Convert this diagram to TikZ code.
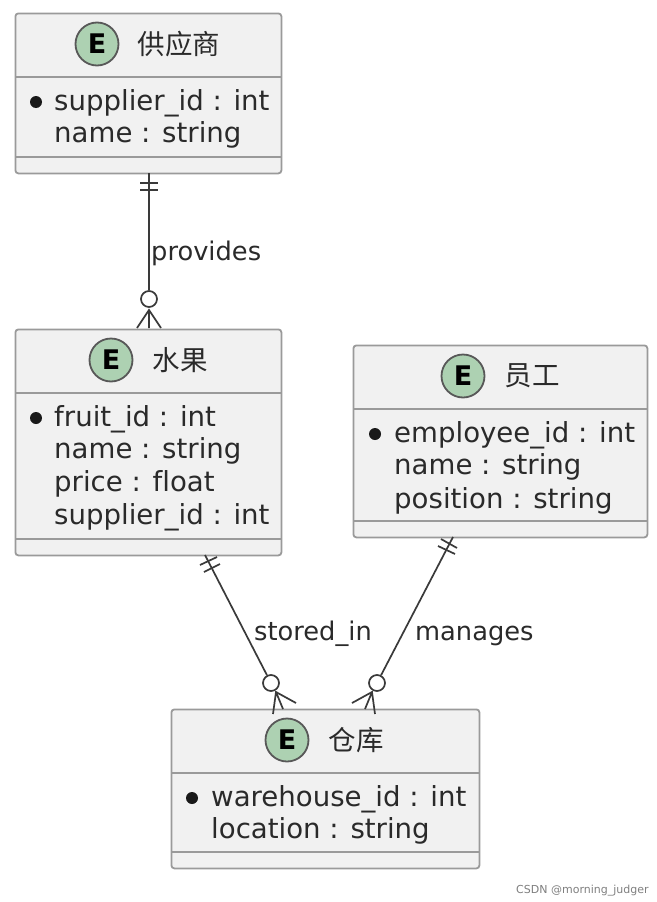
\documentclass[tikz,border=0pt]{standalone}
\usepackage{fontspec}
\setmainfont{DejaVu Sans}[Ligatures=NoCommon]
\newfontfamily\cjk{Noto Sans CJK SC}
\definecolor{boxfill}{HTML}{F1F1F1}
\definecolor{boxline}{HTML}{9A9A9A}
\definecolor{ink}{HTML}{3A3A3A}
\definecolor{txt}{HTML}{2A2A2A}
\definecolor{badge}{HTML}{ADD1B2}
\tikzset{
  entitybox/.style={draw=boxline,fill=boxfill,line width=1.8pt,rounded corners=3pt,inner sep=0pt,anchor=north west},
  sepline/.style={draw=boxline,line width=1.6pt},
  badgenode/.style={circle,draw=ink!85,fill=badge,line width=1.8pt,minimum size=43pt,inner sep=0pt,font=\fontsize{27}{27}\selectfont\bfseries,text=black},
  titletext/.style={font=\fontsize{27.5}{27.5}\selectfont\cjk,text=txt,inner sep=0pt},
  attr/.style={font=\fontsize{27.6}{27.6}\selectfont,text=txt,anchor=base west,inner sep=0pt},
  keydot/.style={circle,fill=black!90,minimum size=12pt,inner sep=0pt},
  rel/.style={draw=ink,line width=1.7pt},
  zero/.style={circle,draw=ink,fill=white,line width=1.7pt,minimum size=16pt,inner sep=0pt},
  linklabel/.style={font=\fontsize{25.7}{25.7}\selectfont,text=txt,anchor=base west,inner sep=0pt},
}
\begin{document}
\begin{tikzpicture}[x=1pt,y=-1pt]
\useasboundingbox[fill=white] (0,0) rectangle (656,902);
% Supplier
\node[entitybox,minimum width=266pt,minimum height=160pt] (sup) at (14.5,12.5) {};
\draw[sepline] (15,77) -- (281,77) (15,157) -- (281,157);
\node[badgenode] (supE) at (97,44) {E};
\node[titletext] (supT) at (179,44) {供应商};
\node[keydot] (supK) at (36,102) {};
\node[attr] (supA) at (54,110) {supplier\_id : int};
\node[attr] (supB) at (54,142) {name : string};
% Fruit
\node[entitybox,minimum width=266pt,minimum height=226pt] (fru) at (14.5,328.5) {};
\draw[sepline] (15,393) -- (281,393) (15,539) -- (281,539);
\node[badgenode] (fruE) at (111,360) {E};
\node[titletext] (fruT) at (180,360) {水果};
\node[keydot] (fruK) at (36,418) {};
\node[attr] (fruA) at (54,426) {fruit\_id : int};
\node[attr] (fruB) at (54,458) {name : string};
\node[attr] (fruC) at (54,491) {price : float};
\node[attr] (fruD) at (54,524) {supplier\_id : int};
% Employee
\node[entitybox,minimum width=294pt,minimum height=192pt] (emp) at (352.5,344.5) {};
\draw[sepline] (353,409) -- (647,409) (353,521) -- (647,521);
\node[badgenode] (empE) at (463,376) {E};
\node[titletext] (empT) at (532,376) {员工};
\node[keydot] (empK) at (375,434) {};
\node[attr] (empA) at (394,442) {employee\_id : int};
\node[attr] (empB) at (394,474) {name : string};
\node[attr] (empC) at (394,508) {position : string};
% Warehouse
\node[entitybox,minimum width=308pt,minimum height=159pt] (wh) at (170.5,708.5) {};
\draw[sepline] (171,773) -- (479,773) (171,852) -- (479,852);
\node[badgenode] (whE) at (287,740) {E};
\node[titletext] (whT) at (356,740) {仓库};
\node[keydot] (whK) at (192,798) {};
\node[attr] (whA) at (211,806) {warehouse\_id : int};
\node[attr] (whB) at (211,838) {location : string};
% provides
\node[zero] (z1) at (149,299) {};
\coordinate (s1) at (149,173);
\draw[rel] (s1) -- (z1);
\draw[rel] (140,183) -- (158,183) (140,190) -- (158,190);
\draw[rel] (137,328) -- (149,310) -- (161,328) (149,310) -- (149,328);
\node[linklabel] (l1) at (151,260) {provides};
% stored_in
\node[zero] (z2) at (271,683) {};
\coordinate (s2) at (205,555);
\draw[rel] (s2) -- (z2);
\draw[rel] (200,565) -- (217,557) (204,572) -- (220,564);
\draw[rel] (273,714) -- (276,692) -- (296,703) (276,692) -- (283,709);
\node[linklabel] (l2) at (254,640) {stored\_in};
% manages
\node[zero] (z3) at (377,683) {};
\coordinate (s3) at (453,537);
\draw[rel] (s3) -- (z3);
\draw[rel] (438,546) -- (455,554) (441,539) -- (457,548);
\draw[rel] (375,714) -- (372,692) -- (352,703) (372,692) -- (365,709);
\node[linklabel] (l3) at (415,640) {manages};
% credit
\node[font=\fontsize{11}{11}\selectfont,text=black!50,anchor=base west,inner sep=0pt] (credit) at (516,893) {CSDN @morning\_judger};
\end{tikzpicture}
\end{document}
